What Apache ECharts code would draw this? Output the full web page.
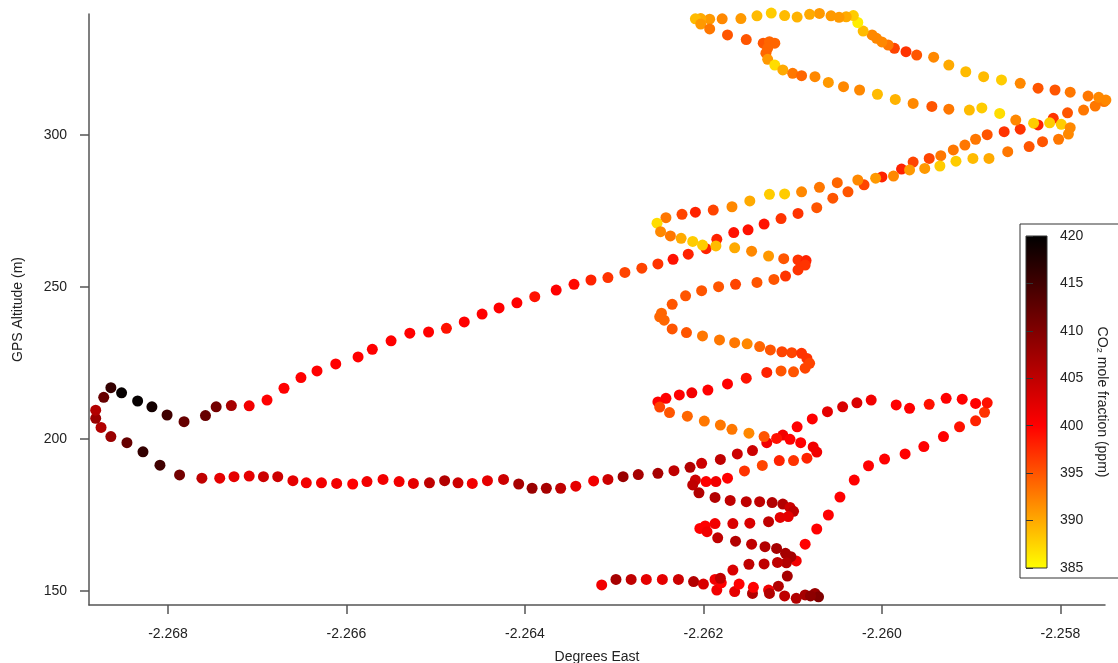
<!DOCTYPE html>
<html>
<head>
<meta charset="utf-8">
<script src="https://cdn.jsdelivr.net/npm/echarts@6/dist/echarts.min.js"></script>
<style>
  html, body { margin: 0; padding: 0; background: #ffffff; }
  #chart { width: 1118px; height: 663px; }
</style>
</head>
<body>
<div id="chart"></div>
<script>
// Axis tick values
const xTicks = [-2.268, -2.266, -2.264, -2.262, -2.260, -2.258];
const yTicks = [150, 200, 250, 300];
const co2Ticks = [385, 390, 395, 400, 405, 410, 415, 420];
// Colour scale for CO2 (yellow -> red -> black), one stop per 5 ppm
const co2Colors = ['#ffff00', '#ffaa00', '#ff5500', '#ff0000', '#bf0000', '#800000', '#400000', '#000000'];

// Flight track samples: [longitude (deg E), GPS altitude (m), CO2 (ppm)]
const bottomPass = [
  [-2.26314,152.0,401],[-2.26298,153.8,407],[-2.26281,153.8,405],[-2.26264,153.8,402],[-2.26246,153.8,402],
  [-2.26228,153.8,404],[-2.26211,153.1,406],[-2.26200,152.3,403],[-2.26185,150.3,401],[-2.26180,152.7,400],
  [-2.26187,153.8,401],[-2.26165,149.8,402],[-2.26160,152.3,400],[-2.26145,149.2,406],[-2.26144,151.2,400],
  [-2.26127,150.3,401],[-2.26126,149.2,406],[-2.26116,151.6,406],[-2.26109,148.4,405],[-2.26096,147.6,406],
  [-2.26086,148.7,407],[-2.26075,149.2,408],[-2.26071,148.1,410],[-2.26080,148.4,409]
];
const eastLoop = [
  [-2.26106,154.9,407],[-2.26096,159.9,401],[-2.26086,165.4,400],[-2.26073,170.4,400],[-2.26060,175.0,400],
  [-2.26047,180.9,400],[-2.26031,186.5,400],[-2.26015,191.2,400],[-2.25997,193.4,400],[-2.25974,195.1,400],
  [-2.25953,197.5,400],[-2.25931,200.8,400],[-2.25913,204.0,399],[-2.25895,206.0,398],[-2.25885,208.8,397],
  [-2.25882,211.9,399],[-2.25895,211.7,400],[-2.25910,213.1,400],[-2.25928,213.4,400],[-2.25947,211.4,399],
  [-2.25969,210.1,400],[-2.25984,211.2,400],[-2.26012,212.8,401],[-2.26028,211.9,403],[-2.26044,210.6,403],
  [-2.26061,209.0,402],[-2.26078,206.6,400],[-2.26095,204.0,400],[-2.26111,201.3,401],[-2.26129,198.8,401]
];
const westLeg = [
  [-2.26145,196.2,404],[-2.26162,195.1,404],[-2.26181,193.3,405],[-2.26202,192.0,404],[-2.26215,190.7,406],
  [-2.26233,189.6,405],[-2.26251,188.7,407],[-2.26273,188.3,407],[-2.26290,187.6,408],[-2.26307,186.7,404],
  [-2.26323,186.2,401],[-2.26343,184.5,402],[-2.26360,183.8,405],[-2.26376,183.8,407],[-2.26392,183.8,408],
  [-2.26407,185.2,407],[-2.26424,186.7,404],[-2.26442,186.3,402],[-2.26459,185.4,401],[-2.26475,185.6,404],
  [-2.26490,186.3,406],[-2.26507,185.6,405],[-2.26525,185.4,402],[-2.26541,186.0,401],[-2.26559,186.7,401],
  [-2.26577,186.0,401],[-2.26593,185.2,400],[-2.26611,185.4,401],[-2.26628,185.6,401],[-2.26645,185.6,401],
  [-2.26660,186.3,402],[-2.26677,187.6,404],[-2.26693,187.6,404],[-2.26709,187.8,402],[-2.26726,187.6,402],
  [-2.26742,187.1,402],[-2.26762,187.1,405]
];
const westTurn = [
  [-2.26787,188.2,411],[-2.26809,191.4,415],[-2.26828,195.8,416],[-2.26846,198.8,412],[-2.26864,200.8,408],
  [-2.26875,203.8,406],[-2.26881,206.8,408],[-2.26881,209.5,406],[-2.26872,213.7,412],[-2.26864,216.9,416],
  [-2.26852,215.2,419.5],[-2.26834,212.5,419.5],[-2.26818,210.6,418.5],[-2.26801,207.9,415],[-2.26782,205.7,412],
  [-2.26758,207.7,412],[-2.26746,210.6,411],[-2.26729,211.0,407],[-2.26709,210.9,401]
];
const climb = [
  [-2.26689,212.8,400],[-2.26670,216.7,400],[-2.26651,220.2,400],[-2.26633,222.4,400],[-2.26612,224.7,400],
  [-2.26587,227.0,400],[-2.26571,229.5,400],[-2.26550,232.3,400],[-2.26529,234.8,400],[-2.26508,235.2,400],
  [-2.26488,236.4,399],[-2.26468,238.5,400],[-2.26448,241.1,400],[-2.26429,243.1,400],[-2.26409,244.8,400],
  [-2.26389,246.8,399],[-2.26365,249.0,400],[-2.26345,250.9,399.5],[-2.26326,252.3,398],[-2.26307,253.1,397],
  [-2.26288,254.8,396],[-2.26269,256.2,396],[-2.26251,257.6,397],[-2.26234,259.1,399],[-2.26217,260.8,398],
  [-2.26197,262.6,398],[-2.26185,265.7,398],[-2.26166,267.9,399],[-2.26150,268.8,399],[-2.26132,270.7,399],
  [-2.26113,272.5,397],[-2.26094,274.2,397],[-2.26073,276.1,395],[-2.26055,279.2,395],[-2.26038,281.3,395],
  [-2.26020,283.6,396],[-2.26000,286.2,398],[-2.25978,288.8,398],[-2.25965,291.1,396],[-2.25947,292.3,396],
  [-2.25934,293.2,393],[-2.25920,295.1,393],[-2.25907,296.7,393],[-2.25895,298.6,393],[-2.25882,300.1,395],
  [-2.25863,301.1,397],[-2.25845,301.9,397],[-2.25825,303.3,398],[-2.25808,305.5,397],[-2.25792,307.3,395],
  [-2.25774,308.2,393],[-2.25761,309.5,393],[-2.25751,311.0,393],[-2.25749,311.5,392]
];
const topLeg = [
  [-2.25757,312.4,392],[-2.25769,312.8,393],[-2.25789,314.1,393],[-2.25806,314.8,395],[-2.25825,315.4,395],
  [-2.25845,317.0,392],[-2.25866,318.1,388],[-2.25886,319.2,389],[-2.25906,320.8,389],[-2.25925,323.0,390],
  [-2.25942,325.6,392],[-2.25961,326.3,395],[-2.25973,327.4,397],[-2.25986,328.5,396],[-2.25993,329.6,393],
  [-2.26000,330.6,392],[-2.26006,331.8,392],[-2.26011,332.9,392],[-2.26021,334.2,389],[-2.26027,337.0,386],
  [-2.26032,339.3,388],[-2.26040,338.9,390],[-2.26048,338.7,391],[-2.26057,339.2,391],[-2.26070,340.0,391],
  [-2.26081,339.7,390],[-2.26095,338.8,389.5],[-2.26109,339.3,389],[-2.26124,340.1,388],[-2.26140,339.2,389],
  [-2.26158,338.3,391],[-2.26179,338.2,392],[-2.26193,338.1,391],[-2.26203,338.3,390],[-2.26209,338.2,389]
];
const upperLoop = [
  [-2.26203,336.5,391],[-2.26193,334.9,393],[-2.26173,332.9,395],[-2.26152,331.4,395],[-2.26133,330.2,395],
  [-2.26126,330.7,394],[-2.26120,330.2,394],[-2.26128,328.5,394],[-2.26130,326.9,394],[-2.26128,324.9,391],
  [-2.26120,323.0,387],[-2.26111,321.4,390],[-2.26100,320.3,393],[-2.26090,319.5,394],[-2.26075,319.2,392],
  [-2.26060,317.3,391],[-2.26043,315.9,392],[-2.26025,314.8,392],[-2.26005,313.4,389],[-2.25985,311.7,389.5]
];
const midLeg = [
  [-2.25965,310.4,392],[-2.25944,309.4,395],[-2.25925,308.5,393],[-2.25902,308.2,389],[-2.25888,308.9,388],
  [-2.25868,307.1,387],[-2.25850,304.9,392],[-2.25830,303.9,388],[-2.25812,304.0,388],[-2.25799,303.5,388]
];
const returnLeg = [
  [-2.25789,302.4,392],[-2.25791,300.3,392],[-2.25802,298.6,393],[-2.25820,297.8,395],[-2.25835,296.2,395],
  [-2.25859,294.5,393],[-2.25880,292.3,390],[-2.25898,292.3,389],[-2.25917,291.4,388],[-2.25935,289.8,388],
  [-2.25952,289.0,391],[-2.25969,288.5,391],[-2.25987,286.5,392],[-2.26007,285.8,391],[-2.26027,285.2,392],
  [-2.26050,284.3,394],[-2.26070,282.8,393],[-2.26090,281.3,392],[-2.26109,280.6,388],[-2.26126,280.5,388],
  [-2.26148,278.3,390],[-2.26168,276.4,392],[-2.26189,275.3,396],[-2.26209,274.6,398],[-2.26224,273.9,396],
  [-2.26242,272.8,393],[-2.26252,271.0,387]
];
const zigzag = [
  [-2.26248,268.2,392],[-2.26237,266.8,393],[-2.26225,266.0,390],[-2.26212,265.0,388],[-2.26201,263.8,388],
  [-2.26186,263.5,389],[-2.26165,262.9,390],[-2.26146,261.8,392],[-2.26127,260.2,391],[-2.26110,259.3,395],
  [-2.26094,258.9,397],[-2.26085,258.7,398],[-2.26086,257.2,397],[-2.26094,255.6,397],[-2.26108,253.6,397],
  [-2.26121,252.5,395],[-2.26140,251.5,395],[-2.26164,250.9,396],[-2.26183,250.1,395],[-2.26202,248.8,395],
  [-2.26220,247.1,395],[-2.26235,244.3,395],[-2.26247,241.4,394],[-2.26249,240.2,394],[-2.26244,239.1,394],
  [-2.26235,236.2,395],[-2.26219,235.0,395],[-2.26201,233.9,393],[-2.26182,232.6,393],[-2.26165,231.7,393],
  [-2.26151,231.3,392],[-2.26137,230.4,394],[-2.26125,229.3,395],[-2.26112,228.7,396],[-2.26101,228.4,396],
  [-2.26090,228.2,397],[-2.26084,226.5,397],[-2.26081,224.9,396],[-2.26086,223.3,396],[-2.26099,222.1,395],
  [-2.26113,222.4,395],[-2.26129,221.9,398],[-2.26152,220.0,399],[-2.26173,218.1,400],[-2.26195,216.1,400],
  [-2.26213,215.2,401],[-2.26227,214.5,400],[-2.26242,213.4,400],[-2.26251,212.2,400],[-2.26249,210.5,396],
  [-2.26238,208.7,395],[-2.26218,207.5,394],[-2.26199,205.9,393],[-2.26181,204.6,393],[-2.26168,203.2,393],
  [-2.26149,201.9,392],[-2.26132,200.8,395],[-2.26118,200.2,399],[-2.26103,199.9,400],[-2.26091,198.8,400],
  [-2.26077,197.4,401],[-2.26073,195.7,401],[-2.26084,193.7,398],[-2.26099,192.9,397],[-2.26115,192.9,398],
  [-2.26134,191.3,396],[-2.26154,189.5,397],[-2.26173,187.1,400],[-2.26186,186.0,401],[-2.26197,186.0,400],
  [-2.26209,186.5,404],[-2.26212,184.9,405],[-2.26205,182.3,406],[-2.26187,180.8,406],[-2.26170,179.8,405],
  [-2.26152,179.4,405],[-2.26137,179.4,405],[-2.26123,179.1,406],[-2.26111,178.6,406],[-2.26103,177.5,404],
  [-2.26099,176.2,405],[-2.26105,174.5,402],[-2.26114,174.2,402],[-2.26127,172.8,405],[-2.26148,172.3,403],
  [-2.26167,172.2,403],[-2.26187,172.2,401],[-2.26198,171.4,400],[-2.26204,170.6,400],[-2.26196,169.5,401],
  [-2.26184,167.5,405],[-2.26164,166.4,406],[-2.26146,165.4,405],[-2.26131,164.6,406],[-2.26118,164.0,407],
  [-2.26108,162.4,407],[-2.26102,161.3,407],[-2.26107,159.3,406],[-2.26117,159.4,405],[-2.26132,158.9,405],
  [-2.26149,158.8,405],[-2.26167,156.9,403],[-2.26181,154.2,405]
];

const track = [].concat(bottomPass, eastLoop, westLeg, westTurn, climb, topLeg, upperLoop, midLeg, returnLeg, zigzag);

const FONT = '"Liberation Sans", Arial, Helvetica, sans-serif';
const TEXT = '#222222';
const AXIS = '#555555';

// Vertical gradient for the colour bar, black at the top (420) to yellow at the bottom (385)
const barGradient = new echarts.graphic.LinearGradient(0, 0, 0, 1,
  co2Colors.slice().reverse().map((c, i, a) => ({ offset: i / (a.length - 1), color: c })));

const chart = echarts.init(document.getElementById('chart'), null, { renderer: 'canvas' });

chart.setOption({
  animation: false,
  backgroundColor: '#ffffff',
  textStyle: { fontFamily: FONT },
  grid: [
    { left: 89, right: 13, top: 14, bottom: 58, outerBoundsMode: 'none', containLabel: false },
    // frame around the colour scale
    { left: 1020, top: 224, width: 110, height: 354, show: true, backgroundColor: '#ffffff',
      borderColor: '#333333', borderWidth: 1, z: 0, outerBoundsMode: 'none' },
    // the colour bar itself
    { left: 1026, top: 236, width: 21, height: 332, show: true, backgroundColor: barGradient,
      borderColor: '#333333', borderWidth: 1, z: 1, outerBoundsMode: 'none' }
  ],
  xAxis: [
    {
      type: 'value', gridIndex: 0, min: -2.268885, max: -2.2575,
      name: 'Degrees East', nameLocation: 'middle', nameGap: 45,
      nameTextStyle: { fontFamily: FONT, fontSize: 14, color: TEXT },
      axisLine: { onZero: false, lineStyle: { color: AXIS, width: 1.5 } },
      axisTick: { customValues: xTicks, length: 9, lineStyle: { color: AXIS, width: 1.5 } },
      axisLabel: { customValues: xTicks, formatter: v => v.toFixed(3), margin: 22,
        fontFamily: FONT, fontSize: 14, color: TEXT },
      splitLine: { show: false }
    },
    { type: 'value', gridIndex: 1, show: false },
    { type: 'value', gridIndex: 2, show: false, min: 0, max: 1 }
  ],
  yAxis: [
    {
      type: 'value', gridIndex: 0, min: 145.4, max: 339.8,
      name: 'GPS Altitude (m)', nameLocation: 'middle', nameGap: 64,
      nameTextStyle: { fontFamily: FONT, fontSize: 14, color: TEXT },
      axisLine: { onZero: false, lineStyle: { color: AXIS, width: 1.5 } },
      axisTick: { customValues: yTicks, length: 9, lineStyle: { color: AXIS, width: 1.5 } },
      axisLabel: { customValues: yTicks, margin: 22, fontFamily: FONT, fontSize: 14, color: TEXT },
      splitLine: { show: false }
    },
    { type: 'value', gridIndex: 1, show: false },
    {
      type: 'value', gridIndex: 2, min: 385, max: 420, position: 'right', z: 3,
      name: 'CO\u2082 mole fraction (ppm)', nameLocation: 'middle', nameRotate: -90, nameGap: 48,
      nameTextStyle: { fontFamily: FONT, fontSize: 14, color: TEXT },
      axisLine: { show: false },
      axisTick: { customValues: co2Ticks, length: 7, lineStyle: { color: '#333333', width: 1 } },
      axisLabel: { customValues: co2Ticks, margin: 13, fontFamily: FONT, fontSize: 14, color: TEXT },
      splitLine: { show: false }
    }
  ],
  visualMap: {
    type: 'continuous', show: false, min: 385, max: 420, dimension: 2, seriesIndex: 0,
    inRange: { color: co2Colors }
  },
  series: [
    {
      type: 'scatter', xAxisIndex: 0, yAxisIndex: 0, data: track,
      symbol: 'circle', symbolSize: 11, clip: false,
      itemStyle: { opacity: 1 }
    }
  ]
});
</script>
</body>
</html>
